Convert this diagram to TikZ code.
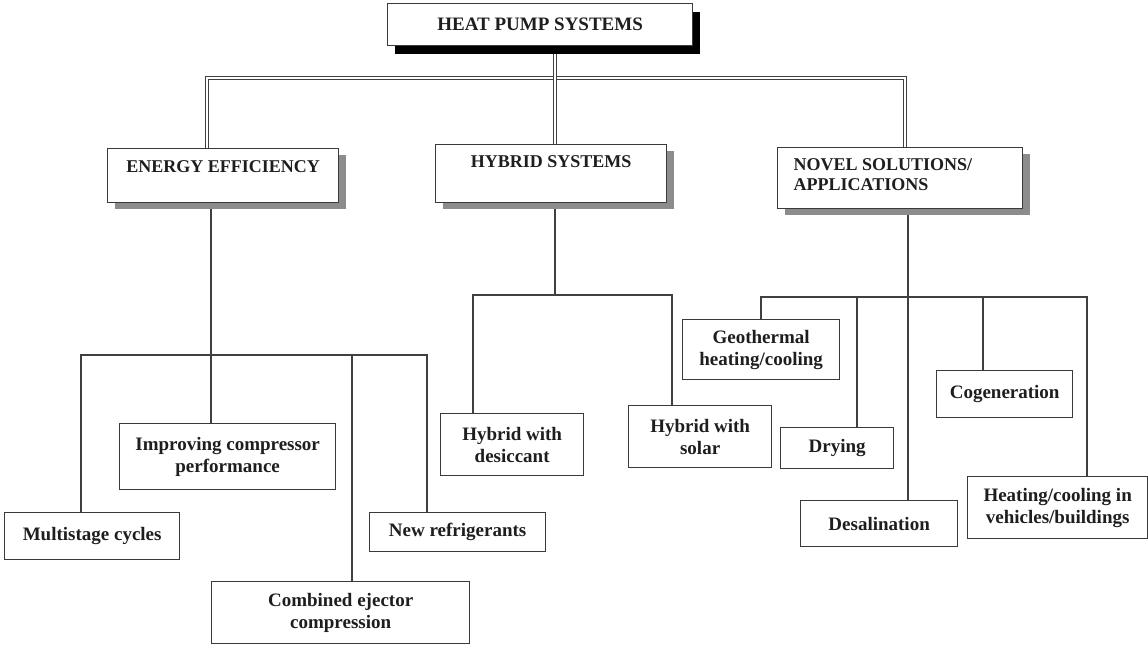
\documentclass[tikz,border=0pt]{standalone}
\usepackage{fontspec}
\setmainfont{Liberation Serif}
\usetikzlibrary{shadows,backgrounds}
\definecolor{ln}{HTML}{404040}
\definecolor{bx}{HTML}{3a3a3a}
\definecolor{sh}{HTML}{8c8c8c}
\definecolor{tx}{HTML}{1e1e1e}
\tikzset{
  boxbase/.style={draw=bx, line width=1.3pt, fill=white, text=tx, anchor=north west},
  topbox/.style={boxbase, font=\bfseries\fontsize{19}{22}\selectfont, inner sep=0pt,
    drop shadow={shadow xshift=7pt, shadow yshift=-8pt, fill=black, opacity=1}},
  midbox/.style={boxbase, font=\bfseries\fontsize{18}{20}\selectfont, inner ysep=0pt,
    drop shadow={shadow xshift=7pt, shadow yshift=-6pt, fill=sh, opacity=1}},
  leaf/.style={boxbase, font=\bfseries\fontsize{19}{22}\selectfont, align=center, inner sep=1pt},
  thin/.style={draw=ln, line width=1.1pt},
  dbl/.style={draw=ln, line width=1.2pt, double=white, double distance=2pt}
}
\begin{document}
\begin{tikzpicture}[x=1pt,y=-1pt]
\useasboundingbox (0,0) rectangle (1148,645);
% top
\node[topbox, minimum width=305pt, minimum height=42pt] (top) at (387,3) {HEAT PUMP SYSTEMS};
% level 2
\node[midbox, minimum width=231pt, text height=24pt, text depth=30pt] (ee) at (107,148) {ENERGY EFFICIENCY};
\node[midbox, minimum width=231pt, text height=23pt, text depth=35pt] (hyb) at (435,144) {HYBRID SYSTEMS};
\node[midbox, inner xsep=16pt, text height=23pt, text depth=38pt] (nov) at (777,147)
  {\parbox[t]{213pt}{\raggedright NOVEL SOLUTIONS/\\APPLICATIONS}};
% leaves
\node[leaf, minimum width=216pt, minimum height=66pt] (imp) at (119,423) {Improving compressor\\performance};
\node[leaf, minimum width=175pt, minimum height=47pt] (multi) at (4,512) {Multistage cycles};
\node[leaf, minimum width=258pt, minimum height=62pt] (comb) at (211,581) {Combined ejector\\compression};
\node[leaf, minimum width=176pt, minimum height=39pt] (newref) at (369,512) {New refrigerants};
\node[leaf, minimum width=143pt, minimum height=62pt] (desic) at (440,413) {Hybrid with\\desiccant};
\node[leaf, minimum width=143pt, minimum height=62pt] (solar) at (628,405) {Hybrid with\\solar};
\node[leaf, minimum width=157pt, minimum height=60pt] (geo) at (682,319) {Geothermal\\heating/cooling};
\node[leaf, minimum width=113pt, minimum height=41pt] (dry) at (780,427) {Drying};
\node[leaf, minimum width=136pt, minimum height=47pt] (cog) at (936,370) {Cogeneration};
\node[leaf, minimum width=180pt, minimum height=62pt] (heat) at (967,476) {Heating/cooling in\\vehicles/buildings};
\node[leaf, minimum width=157pt, minimum height=46pt] (desal) at (800,500) {Desalination};
% junction coordinates
\coordinate (bL) at (207,78);
\coordinate (bM) at (555,78);
\coordinate (bR) at (905,78);
\coordinate (eJ) at (211,355);
\coordinate (eA) at (81,355);
\coordinate (eC) at (352,355);
\coordinate (eD) at (427,355);
\coordinate (hJ) at (555,295);
\coordinate (hA) at (473,295);
\coordinate (hB) at (672,295);
\coordinate (nJ) at (908,297);
\coordinate (nA) at (761,297);
\coordinate (nB) at (857,297);
\coordinate (nC) at (983,297);
\coordinate (nD) at (1087,297);
\begin{scope}[on background layer]
\draw[dbl] (ee.north -| bL) -- (bL) -- (bR) -- (nov.north -| bR);
\draw[dbl] (top.south -| bM) -- (hyb.north -| bM);
\draw[thin] (ee.south -| eJ) -- (imp.north -| eJ);
\draw[thin] (multi.north -| eA) -- (eA) -- (eD) -- (newref.north -| eD);
\draw[thin] (eC) -- (comb.north -| eC);
\draw[thin] (hyb.south -| hJ) -- (hJ);
\draw[thin] (desic.north -| hA) -- (hA) -- (hB) -- (solar.north -| hB);
\draw[thin] (nov.south -| nJ) -- (desal.north -| nJ);
\draw[thin] (geo.north -| nA) -- (nA) -- (nD) -- (heat.north -| nD);
\draw[thin] (nB) -- (dry.north -| nB);
\draw[thin] (nC) -- (cog.north -| nC);
\end{scope}
\end{tikzpicture}
\end{document}
